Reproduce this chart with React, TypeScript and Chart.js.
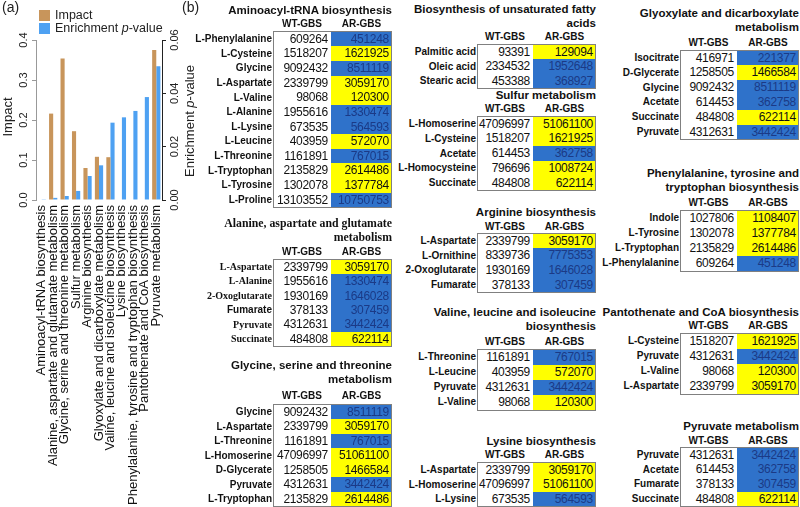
import React, { useEffect, useRef } from 'react';
import { Chart, registerables } from 'chart.js';

Chart.register(...registerables);

// ---------- Panel (a) data ----------
const pathways = [
  'Aminoacyl-tRNA biosynthesis',
  'Alanine, aspartate and glutamate metabolism',
  'Glycine, serine and threonine metabolism',
  'Sulfur metabolism',
  'Arginine biosynthesis',
  'Glyoxylate and dicarboxylate metabolism',
  'Valine, leucine and isoleucine biosynthesis',
  'Lysine biosynthesis',
  'Phenylalanine, tyrosine and tryptophan biosynthesis',
  'Pantothenate and CoA biosynthesis',
  'Pyruvate metabolism',
];
const impactValues = [0, 0.216, 0.354, 0.172, 0.08, 0.108, 0.107, 0, 0, 0, 0.375];
const pValues = [0.0001, 0.0008, 0.0015, 0.0034, 0.009, 0.013, 0.029, 0.031, 0.0334, 0.0386, 0.0502];
const impactTickStep = 0.1;
const impactMax = 0.4;
const pTickStep = 0.02;
const pMax = 0.06;

// ---------- Panel (b) data ----------
const metabolites = [
  'L-Phenylalanine', 'L-Cysteine', 'Glycine', 'L-Aspartate', 'L-Valine', 'L-Alanine',
  'L-Lysine', 'L-Leucine', 'L-Threonine', 'L-Tryptophan', 'L-Tyrosine', 'L-Proline',
  '2-Oxoglutarate', 'Fumarate', 'Pyruvate', 'Succinate', 'L-Homoserine', 'D-Glycerate',
  'Palmitic acid', 'Oleic acid', 'Stearic acid', 'Acetate', 'L-Homocysteine',
  'L-Ornithine', 'Isocitrate', 'Indole',
];
const wtGBS = [
  609264, 1518207, 9092432, 2339799, 98068, 1955616,
  673535, 403959, 1161891, 2135829, 1302078, 13103552,
  1930169, 378133, 4312631, 484808, 47096997, 1258505,
  93391, 2334532, 453388, 614453, 796696,
  8339736, 416971, 1027806,
];
const arGBS = [
  451248, 1621925, 8511119, 3059170, 120300, 1330474,
  564593, 572070, 767015, 2614486, 1377784, 10750753,
  1646028, 307459, 3442424, 622114, 51061100, 1466584,
  129094, 1952648, 368927, 362758, 1008724,
  7775353, 221377, 1108407,
];

const aminoacylRows = ['L-Phenylalanine', 'L-Cysteine', 'Glycine', 'L-Aspartate', 'L-Valine', 'L-Alanine', 'L-Lysine', 'L-Leucine', 'L-Threonine', 'L-Tryptophan', 'L-Tyrosine', 'L-Proline'];
const alanineRows = ['L-Aspartate', 'L-Alanine', '2-Oxoglutarate', 'Fumarate', 'Pyruvate', 'Succinate'];
const glycineRows = ['Glycine', 'L-Aspartate', 'L-Threonine', 'L-Homoserine', 'D-Glycerate', 'Pyruvate', 'L-Tryptophan'];
const fattyAcidRows = ['Palmitic acid', 'Oleic acid', 'Stearic acid'];
const sulfurRows = ['L-Homoserine', 'L-Cysteine', 'Acetate', 'L-Homocysteine', 'Succinate'];
const arginineRows = ['L-Aspartate', 'L-Ornithine', '2-Oxoglutarate', 'Fumarate'];
const valineRows = ['L-Threonine', 'L-Leucine', 'Pyruvate', 'L-Valine'];
const lysineRows = ['L-Aspartate', 'L-Homoserine', 'L-Lysine'];
const glyoxylateRows = ['Isocitrate', 'D-Glycerate', 'Glycine', 'Acetate', 'Succinate', 'Pyruvate'];
const phenylalanineRows = ['Indole', 'L-Tyrosine', 'L-Tryptophan', 'L-Phenylalanine'];
const pantothenateRows = ['L-Cysteine', 'Pyruvate', 'L-Valine', 'L-Aspartate'];
const pyruvateRows = ['Pyruvate', 'Acetate', 'Fumarate', 'Succinate'];

// ---------- Styles / layout ----------
const SANS = "'Liberation Sans', Arial, Helvetica, sans-serif";
const SERIF = "'Liberation Serif', 'Times New Roman', Times, serif";
const ORANGE = '#C8955B';
const LIGHT_BLUE = '#4EA1F2';
const UP_COLOR = '#FFFF00';
const DOWN_COLOR = '#2F72CA';
const DOWN_TEXT = '#1B3A86';

const tableLayouts = [
  { title: 'Aminoacyl-tRNA biosynthesis', rows: aminoacylRows, left: 273, wtW: 58, arW: 61, titleY: 10, headerY: 24, rowY: 39, rowH: 14.64 },
  { title: 'Alanine, aspartate and glutamate\nmetabolism', rows: alanineRows, left: 273, wtW: 58, arW: 61, titleY: 223, headerY: 252, rowY: 267, rowH: 14.4, serif: true, sansRows: ['Fumarate'] },
  { title: 'Glycine, serine and threonine\nmetabolism', rows: glycineRows, left: 273, wtW: 58, arW: 61, titleY: 365, headerY: 396, rowY: 412, rowH: 14.5 },
  { title: 'Biosynthesis of unsaturated fatty\nacids', rows: fattyAcidRows, left: 477, wtW: 56, arW: 63, titleY: 9, headerY: 37, rowY: 52, rowH: 14.5 },
  { title: 'Sulfur metabolism', rows: sulfurRows, left: 477, wtW: 56, arW: 63, titleY: 95, headerY: 109, rowY: 124, rowH: 14.75 },
  { title: 'Arginine biosynthesis', rows: arginineRows, left: 477, wtW: 56, arW: 63, titleY: 212, headerY: 227, rowY: 241, rowH: 14.67 },
  { title: 'Valine, leucine and isoleucine\nbiosynthesis', rows: valineRows, left: 477, wtW: 56, arW: 63, titleY: 312, headerY: 342, rowY: 357, rowH: 15 },
  { title: 'Lysine biosynthesis', rows: lysineRows, left: 477, wtW: 56, arW: 63, titleY: 441, headerY: 455, rowY: 470, rowH: 14.5 },
  { title: 'Glyoxylate and dicarboxylate\nmetabolism', rows: glyoxylateRows, left: 680, wtW: 57, arW: 62, titleY: 13, headerY: 43, rowY: 58, rowH: 14.8 },
  { title: 'Phenylalanine, tyrosine and\ntryptophan biosynthesis', rows: phenylalanineRows, left: 680, wtW: 57, arW: 62, titleY: 173, headerY: 203, rowY: 218, rowH: 15 },
  { title: 'Pantothenate and CoA biosynthesis', rows: pantothenateRows, left: 680, wtW: 57, arW: 62, titleY: 312, headerY: 326, rowY: 341, rowH: 15 },
  { title: 'Pyruvate metabolism', rows: pyruvateRows, left: 680, wtW: 57, arW: 62, titleY: 426, headerY: 441, rowY: 455, rowH: 14.67 },
];

function drawMixed(ctx: any, parts: [string, boolean][], x: number, y: number, size: number, align: string) {
  const widths = parts.map(([s, it]) => {
    ctx.font = `${it ? 'italic ' : ''}${size}px ${SANS}`;
    return ctx.measureText(s).width;
  });
  const total = widths.reduce((a, b) => a + b, 0);
  let cx = align === 'center' ? x - total / 2 : x;
  ctx.textAlign = 'left';
  parts.forEach(([s, it], i) => {
    ctx.font = `${it ? 'italic ' : ''}${size}px ${SANS}`;
    ctx.fillText(s, cx, y);
    cx += widths[i];
  });
}

const axisTextPlugin = {
  id: 'axisText',
  afterDraw(chart: any) {
    const ctx = chart.ctx;
    const yS = chart.scales.y;
    const y1S = chart.scales.y1;
    ctx.save();
    ctx.fillStyle = '#222';
    ctx.textBaseline = 'middle';
    ctx.textAlign = 'center';
    ctx.font = `11px ${SANS}`;
    yS.ticks.forEach((t: any, i: number) => {
      const py = yS.getPixelForTick(i);
      ctx.save();
      ctx.translate(24, py);
      ctx.rotate(-Math.PI / 2);
      ctx.fillText(Number(t.value).toFixed(1), 0, 0);
      ctx.restore();
    });
    y1S.ticks.forEach((t: any, i: number) => {
      const py = y1S.getPixelForTick(i);
      ctx.save();
      ctx.translate(175, py);
      ctx.rotate(-Math.PI / 2);
      ctx.fillText(Number(t.value).toFixed(2), 0, 0);
      ctx.restore();
    });
    // axis titles
    ctx.save();
    ctx.translate(8, 117);
    ctx.rotate(-Math.PI / 2);
    drawMixed(ctx, [['Impact', false]], 0, 0, 13, 'center');
    ctx.restore();
    ctx.save();
    ctx.translate(190, 121);
    ctx.rotate(-Math.PI / 2);
    drawMixed(ctx, [['Enrichment ', false], ['p', true], ['-value', false]], 0, 0, 13, 'center');
    ctx.restore();
    // legend
    const ds = chart.data.datasets;
    ctx.fillStyle = ds[0].backgroundColor;
    ctx.fillRect(39, 10, 11, 11);
    ctx.fillStyle = ds[1].backgroundColor;
    ctx.fillRect(39, 23, 11, 11);
    ctx.fillStyle = '#222';
    drawMixed(ctx, [['Impact', false]], 55, 15.5, 12.5, 'left');
    drawMixed(ctx, [['Enrichment ', false], ['p', true], ['-value', false]], 55, 28.5, 12.5, 'left');
    ctx.restore();
  },
};

function BarChart() {
  const ref = useRef<HTMLCanvasElement>(null);
  useEffect(() => {
    if (!ref.current) return;
    const chart = new Chart(ref.current, {
      type: 'bar',
      data: {
        labels: pathways,
        datasets: [
          { label: 'Impact', data: impactValues, backgroundColor: ORANGE, yAxisID: 'y', categoryPercentage: 0.72, barPercentage: 1 },
          { label: 'Enrichment p-value', data: pValues, backgroundColor: LIGHT_BLUE, yAxisID: 'y1', categoryPercentage: 0.72, barPercentage: 1 },
        ],
      },
      options: {
        responsive: false,
        animation: false,
        devicePixelRatio: 1,
        layout: { padding: { top: 40, left: 0, right: 0, bottom: 0 } },
        plugins: { legend: { display: false }, tooltip: { enabled: false } },
        scales: {
          x: {
            grid: { display: false, drawTicks: false },
            border: { display: false },
            ticks: { minRotation: 90, maxRotation: 90, autoSkip: false, padding: 5, color: '#111', font: { family: SANS, size: 13 } },
            afterFit: (s: any) => { s.height = 307; },
          },
          y: {
            position: 'left',
            min: 0,
            max: impactMax,
            ticks: { stepSize: impactTickStep, display: false },
            grid: { drawOnChartArea: false, tickLength: 4, color: '#999' },
            border: { color: '#999' },
            afterFit: (s: any) => { s.width = 36; },
          },
          y1: {
            position: 'right',
            min: 0,
            max: pMax,
            ticks: { stepSize: pTickStep, display: false },
            grid: { drawOnChartArea: false, tickLength: 4, color: '#222' },
            border: { color: '#222' },
            afterFit: (s: any) => { s.width = 38; },
          },
        },
      } as any,
      plugins: [axisTextPlugin],
    });
    return () => chart.destroy();
  }, []);
  return <canvas ref={ref} width={200} height={507} style={{ position: 'absolute', left: 0, top: 0, width: 200, height: 507 }} />;
}

function MetaboliteTable({ layout }: { layout: any }) {
  const { title, rows, left, wtW, arW, titleY, headerY, rowY, rowH, serif, sansRows } = layout;
  const boxRight = left + wtW + arW;
  const titleFont = serif ? SERIF : SANS;
  const boxTop = rowY - rowH / 2 - 1;
  return (
    <>
      <div style={{ position: 'absolute', right: 800 - boxRight, top: titleY - 7, lineHeight: '14px', whiteSpace: 'pre', textAlign: 'right', fontFamily: titleFont, fontWeight: 'bold', fontSize: serif ? 11.8 : 11.5, color: '#111' }}>{title}</div>
      <div style={{ position: 'absolute', left, top: headerY - 7, width: wtW, textAlign: 'center', lineHeight: '14px', fontFamily: SANS, fontWeight: 'bold', fontSize: 10, color: '#111' }}>WT-GBS</div>
      <div style={{ position: 'absolute', left: left + wtW, top: headerY - 7, width: arW, textAlign: 'center', lineHeight: '14px', fontFamily: SANS, fontWeight: 'bold', fontSize: 10, color: '#111' }}>AR-GBS</div>
      {rows.map((name: string, i: number) => {
        const k = metabolites.indexOf(name);
        const wt = wtGBS[k];
        const ar = arGBS[k];
        const up = ar > wt;
        const cy = rowY + i * rowH;
        const useSerif = serif && !(sansRows || []).includes(name);
        return (
          <React.Fragment key={name}>
            <div style={{ position: 'absolute', right: 800 - left + 1, top: cy - 7, lineHeight: '14px', whiteSpace: 'nowrap', textAlign: 'right', fontFamily: useSerif ? SERIF : SANS, fontWeight: 'bold', fontSize: 10, color: '#111' }}>{name}</div>
          </React.Fragment>
        );
      })}
      <div style={{ position: 'absolute', left, top: boxTop, width: wtW + arW, height: rows.length * rowH + 2, boxSizing: 'border-box', border: '1px solid #808080', background: '#fff', overflow: 'hidden' }}>
        {rows.map((name: string, i: number) => {
          const k = metabolites.indexOf(name);
          const wt = wtGBS[k];
          const ar = arGBS[k];
          const up = ar > wt;
          return (
            <React.Fragment key={name}>
              <div style={{ position: 'absolute', left: 0, top: i * rowH, width: wtW - 1, height: rowH, lineHeight: `${rowH}px`, textAlign: 'right', paddingRight: 3, boxSizing: 'border-box', fontFamily: SANS, fontSize: 12, letterSpacing: '-0.3px', color: '#111' }}>{wt}</div>
              <div style={{ position: 'absolute', left: wtW - 1, top: i * rowH, width: arW - 1, height: rowH + 0.6, lineHeight: `${rowH}px`, textAlign: 'right', paddingRight: 2, boxSizing: 'border-box', background: up ? UP_COLOR : DOWN_COLOR, fontFamily: SANS, fontSize: 12, letterSpacing: '-0.3px', color: up ? '#111' : DOWN_TEXT }}>{ar}</div>
            </React.Fragment>
          );
        })}
      </div>
    </>
  );
}

export default function App() {
  return (
    <div style={{ position: 'absolute', left: 0, top: 0, width: 800, height: 507, overflow: 'hidden', background: '#fff', fontFamily: SANS }}>
      <BarChart />
      <div style={{ position: 'absolute', left: 2, top: -1, fontFamily: SANS, fontSize: 14, color: '#222' }}>(a)</div>
      <div style={{ position: 'absolute', left: 182, top: -1, fontFamily: SANS, fontSize: 14, color: '#222' }}>(b)</div>
      {tableLayouts.map((l) => (
        <MetaboliteTable key={l.title} layout={l} />
      ))}
    </div>
  );
}
